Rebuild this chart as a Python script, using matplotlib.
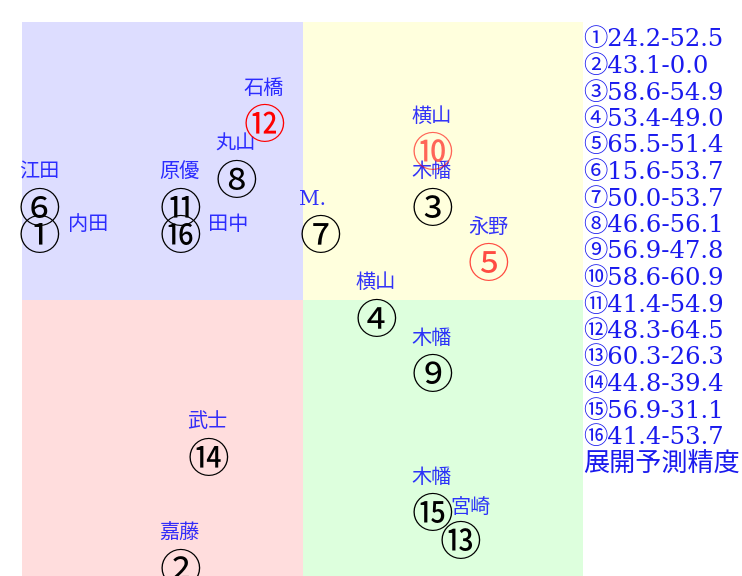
import matplotlib.pyplot as plt
from matplotlib.patches import Rectangle

plt.rcParams['font.family'] = ['Noto Sans CJK JP', 'DejaVu Sans']

# circled number, x value, y value, player name
nums = ['①', '②', '③', '④', '⑤', '⑥', '⑦', '⑧',
        '⑨', '⑩', '⑪', '⑫', '⑬', '⑭', '⑮', '⑯']
x_val = [24.2, 43.1, 58.6, 53.4, 65.5, 15.6, 50.0, 46.6,
         56.9, 58.6, 41.4, 48.3, 60.3, 44.8, 56.9, 41.4]
y_val = [52.5, 0.0, 54.9, 49.0, 51.4, 53.7, 53.7, 56.1,
         47.8, 60.9, 54.9, 64.5, 26.3, 39.4, 31.1, 53.7]
names = ['内田', '嘉藤', '木幡', '横山', '永野', '江田', 'M.', '丸山',
         '木幡', '横山', '原優', '石橋', '宮崎', '武士', '木幡', '田中']
# grid cell where each mark sits on the chart (20 x 20 grid)
col = [0, 5, 14, 12, 16, 0, 10, 7, 14, 14, 5, 8, 15, 6, 14, 5]
row = [12, 0, 13, 9, 11, 13, 12, 14, 7, 15, 13, 16, 1, 4, 2, 12]
title = '展開予測精度'

# styling
mark_color = {'⑫': (1, 0, 0, 1), '⑩': (1, 0, 0, 0.6), '⑤': (1, 0, 0, 0.7)}
label_off = {'①': (46, 20), '⑯': (46, 20), '⑬': (8, 43)}  # px
px = 0.72  # points per pixel at dpi 100

fig = plt.figure(figsize=(7.42, 5.76), dpi=100)
ax = fig.add_axes([22 / 742, -2 / 576, 561 / 742, 556 / 576])
ax.set_xlim(0, 20)
ax.set_ylim(0, 20)
ax.axis('off')

ax.add_patch(Rectangle((0, 10), 10, 10, fc='#ddddff', ec='none'))
ax.add_patch(Rectangle((10, 10), 10, 10, fc='#ffffdd', ec='none'))
ax.add_patch(Rectangle((0, 0), 10, 10, fc='#ffdddd', ec='none'))
ax.add_patch(Rectangle((10, 0), 10, 10, fc='#ddffdd', ec='none'))

for i in range(len(nums)):
    c = mark_color.get(nums[i], 'black')
    ax.annotate(nums[i], (col[i], row[i]), xytext=(-3 * px, 6 * px),
                textcoords='offset points', ha='left', va='center',
                fontsize=30, color=c,
                family=['DejaVu Serif', 'Noto Sans CJK JP'])
    dx, dy = label_off.get(nums[i], (-3, 45))
    ax.annotate(names[i], (col[i], row[i]), xytext=(dx * px, dy * px),
                textcoords='offset points', ha='left', va='center',
                fontsize=14.5, color='blue', alpha=0.8,
                family=['DejaVu Serif', 'Noto Sans CJK JP'])

# legend text on the right
lines = [nums[i] + '%.1f-%.1f' % (x_val[i], y_val[i]) for i in range(len(nums))]
for i, t in enumerate(lines):
    fig.text(583 / 742, 1 - (40 + 26.5 * i) / 576, t, ha='left', va='center',
             fontsize=17.5, color='#1a1aee',
             family=['DejaVu Serif', 'Noto Sans CJK JP'])
fig.text(583 / 742, 1 - (40 + 26.5 * len(lines)) / 576, title, ha='left',
         va='center', fontsize=18.8, color='#1a1aee')

fig.savefig('out.png', dpi=100)
